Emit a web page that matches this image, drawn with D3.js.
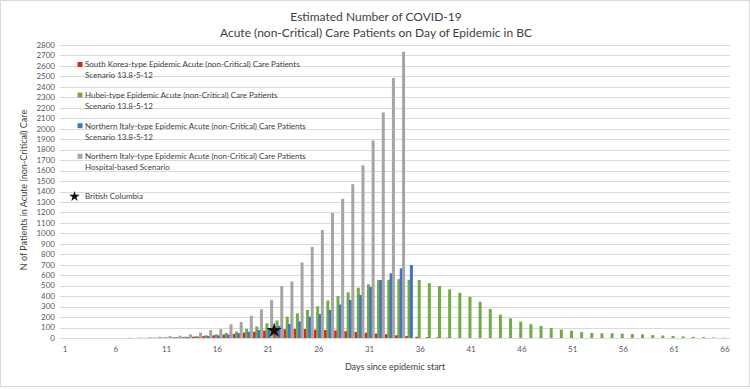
<!DOCTYPE html>
<html>
<head>
<meta charset="utf-8">
<script src="https://cdn.jsdelivr.net/npm/d3@7"></script>
<style>
	body { margin: 0; background: #fff; }
	svg { display: block; font-family: Lato, 'Open Sans', sans-serif; }
	.grid line { stroke: #d9d9d9; stroke-width: 1; }
	.tick-label { fill: #595959; font-size: 8px; }
	.axis-title { fill: #404040; font-size: 9px; }
	.legend text { fill: #404040; font-size: 8px; }
	.title { fill: #404040; font-size: 12px; }
</style>
</head>
<body>
<svg id="chart" width="750" height="389"></svg>
<script>
const W = 750;
const H = 389;

// Days 1..66 of the epidemic
const days = d3.range(1, 67);
const xTickLabels = [1, 6, 11, 16, 21, 26, 31, 36, 41, 46, 51, 56, 61, 66];

// Values, one per day (day 1 first)
const southKorea = [
	0, 0, 0, 0, 0, 0, 0, 0, 1, 2,
	3, 5, 8, 12, 18, 25, 33, 40, 52, 60,
	70, 78, 84, 87, 85, 80, 76, 72, 65, 58,
	51, 43, 36, 26, 18, 12, 7, 5, 3, 1,
	0, 0, 0, 0, 0, 0, 0, 0, 0, 0,
	0, 0, 0, 0, 0, 0, 0, 0, 0, 0,
	0, 0, 0, 0, 0, 0,
];
const hubei = [
	0, 0, 0, 0, 0, 0, 0, 0, 2, 4,
	6, 9, 13, 18, 26, 36, 48, 62, 88, 110,
	140, 168, 204, 236, 268, 303, 358, 400, 437, 481,
	513, 554, 556, 562, 556, 554, 523, 497, 465, 433,
	393, 347, 277, 223, 188, 156, 132, 115, 96, 80,
	70, 56, 48, 45, 45, 42, 38, 35, 28, 24,
	20, 15, 11, 8, 5, 3,
];
const northernItaly = [
	0, 0, 0, 0, 0, 0, 0, 0, 0, 2,
	4, 6, 9, 13, 19, 25, 33, 46, 60, 76,
	95, 115, 135, 158, 204, 228, 268, 320, 363, 411,
	487, 554, 618, 666, 698, 0, 0, 0, 0, 0,
	0, 0, 0, 0, 0, 0, 0, 0, 0, 0,
	0, 0, 0, 0, 0, 0, 0, 0, 0, 0,
	0, 0, 0, 0, 0, 0,
];
const italyHospital = [
	0, 0, 0, 0, 0, 0, 3, 5, 8, 12,
	18, 22, 35, 51, 76, 85, 131, 152, 212, 274,
	363, 497, 540, 722, 870, 1032, 1195, 1330, 1470, 1650,
	1888, 2155, 2485, 2735, 0, 0, 0, 0, 0, 0,
	0, 0, 0, 0, 0, 0, 0, 0, 0, 0,
	0, 0, 0, 0, 0, 0, 0, 0, 0, 0,
	0, 0, 0, 0, 0, 0,
];

// British Columbia marker
const bcPoint = { day: 21.6, value: 72 };

const seriesNames = [
	['South Korea-type Epidemic Acute (non-Critical) Care Patients', 'Scenario 13.8-5-12'],
	['Hubei-type Epidemic Acute (non-Critical) Care Patients', 'Scenario 13.8-5-12'],
	['Northern Italy-type Epidemic Acute (non-Critical) Care Patients', 'Scenario 13.8-5-12'],
	['Northern Italy-type Epidemic Acute (non-Critical) Care Patients', 'Hospital-based Scenario'],
];
const seriesColors = ['#e2231a', '#70ad47', '#4472c4', '#a5a5a5'];
const seriesValues = [southKorea, hubei, northernItaly, italyHospital];

const margin = { top: 45, right: 20, bottom: 51, left: 60 };
const svg = d3.select('#chart');

// Chart area border
svg.append('rect')
	.attr('x', 0.5).attr('y', 0.5)
	.attr('width', W - 1).attr('height', H - 3)
	.attr('fill', '#fff').attr('stroke', '#d9d9d9');

const x = d3.scaleBand()
	.domain(days)
	.range([margin.left, W - margin.right]);
const xDay = d3.scaleLinear()
	.domain([1, 66])
	.range([x(1) + x.bandwidth() / 2, x(66) + x.bandwidth() / 2]);
const y = d3.scaleLinear()
	.domain([0, 2800])
	.range([H - margin.bottom, margin.top]);
const inner = d3.scalePoint()
	.domain(d3.range(seriesValues.length))
	.range([-3.5, 3.5]);
const barW = 3;

// Gridlines
const yTicks = d3.range(0, 2801, 100);
svg.append('g').attr('class', 'grid')
	.selectAll('line').data(yTicks).enter().append('line')
	.attr('x1', margin.left).attr('x2', W - margin.right)
	.attr('y1', d => Math.round(y(d)) + 0.5).attr('y2', d => Math.round(y(d)) + 0.5);

// Y tick labels
svg.append('g').selectAll('text').data(yTicks).enter().append('text')
	.attr('class', 'tick-label')
	.attr('x', 55).attr('y', d => y(d))
	.attr('dy', '0.35em').attr('text-anchor', 'end')
	.text(d => d);

// X tick labels
svg.append('g').selectAll('text').data(xTickLabels).enter().append('text')
	.attr('class', 'tick-label')
	.attr('x', d => xDay(d)).attr('y', H - margin.bottom + 14)
	.attr('text-anchor', 'middle')
	.text(d => d);

// Bars, series by series so later ones sit on top
seriesValues.forEach((values, s) => {
	svg.append('g').attr('fill', seriesColors[s])
		.selectAll('rect').data(values.map((v, i) => ({ day: days[i], v })).filter(d => d.v > 0))
		.enter().append('rect')
		.attr('x', d => xDay(d.day) + inner(s) - barW / 2)
		.attr('width', barW)
		.attr('y', d => y(d.v))
		.attr('height', d => y(0) - y(d.v));
});

// BC star
svg.append('path')
	.attr('d', d3.symbol(d3.symbolStar, 70))
	.attr('transform', `translate(${xDay(bcPoint.day)},${y(bcPoint.value)})`)
	.attr('fill', '#111');

// Legend
const legend = svg.append('g').attr('class', 'legend');
seriesNames.forEach(([line1, line2], i) => {
	const ly = 64.5 + i * 30.6;
	legend.append('rect')
		.attr('x', 77.5).attr('y', ly - 2.5)
		.attr('width', 5).attr('height', 5)
		.attr('fill', seriesColors[i]);
	legend.append('text').attr('x', 85).attr('y', ly).attr('dy', '0.35em').text(line1);
	legend.append('text').attr('x', 85).attr('y', ly + 11).attr('dy', '0.35em').text(line2);
});
legend.append('path')
	.attr('d', d3.symbol(d3.symbolStar, 34))
	.attr('transform', 'translate(74.5,196.5)')
	.attr('fill', '#111');
legend.append('text').attr('x', 85).attr('y', 196.5).attr('dy', '0.35em').text('British Columbia');

// Titles
svg.append('text').attr('class', 'title')
	.attr('x', 376).attr('y', 21).attr('text-anchor', 'middle')
	.text('Estimated Number of COVID-19');
svg.append('text').attr('class', 'title')
	.attr('x', 376).attr('y', 37).attr('text-anchor', 'middle')
	.text('Acute (non-Critical) Care Patients on Day of Epidemic in BC');

svg.append('text').attr('class', 'axis-title')
	.attr('transform', 'translate(24,190) rotate(-90)')
	.attr('text-anchor', 'middle').attr('dy', '0.35em')
	.text('N of Patients in Acute (non-Critical) Care');
svg.append('text').attr('class', 'axis-title')
	.attr('x', 395).attr('y', 370).attr('text-anchor', 'middle')
	.text('Days since epidemic start');
</script>
</body>
</html>
